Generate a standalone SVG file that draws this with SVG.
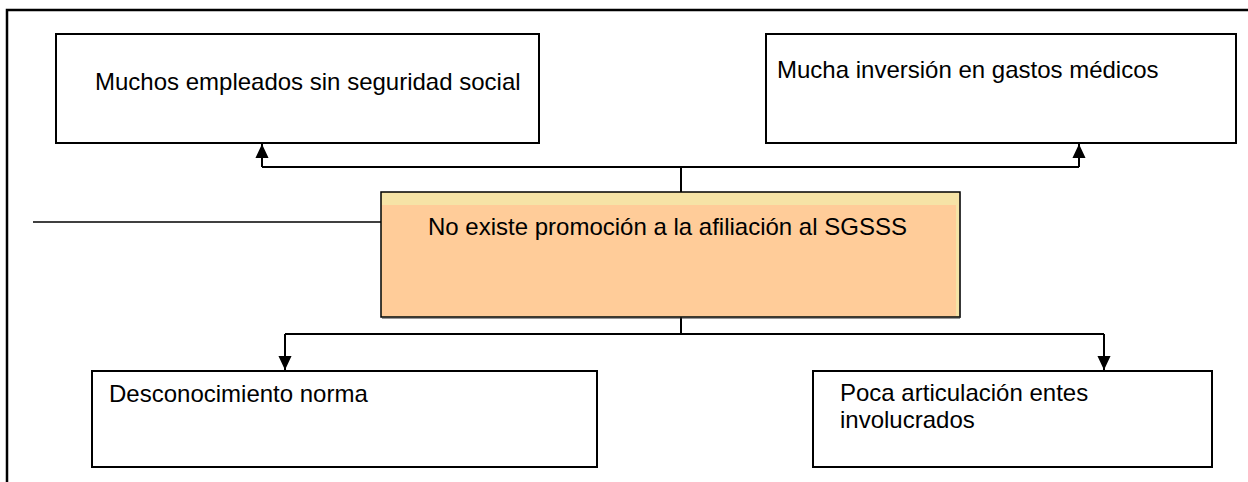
<svg xmlns="http://www.w3.org/2000/svg" width="1248" height="482" viewBox="0 0 1248 482">
<defs>
<style>
.box{fill:#ffffff;stroke:#000000;stroke-width:2}
.t{font-family:"Liberation Sans",Arial,sans-serif;font-size:24px;fill:#000000}
.c{fill:none;stroke:#000000;stroke-width:2}
</style>
<marker id="ah" markerWidth="14" markerHeight="15" viewBox="0 0 15 14" refX="15" refY="7" orient="auto" markerUnits="userSpaceOnUse">
<path d="M0,0 L15,7 L0,14 Z" fill="#000000"/>
</marker>
</defs>
<rect width="1248" height="482" fill="#ffffff"/>
<path d="M7,482 V10 H1248" fill="none" stroke="#000000" stroke-width="2.5"/>
<g id="connectors">
<path class="c" d="M681,192 V167"/>
<path class="c" d="M262,167 H1079"/>
<path class="c" d="M262,167 V144" marker-end="url(#ah)"/>
<path class="c" d="M1079,167 V144" marker-end="url(#ah)"/>
<path class="c" d="M681,317 V334"/>
<path class="c" d="M285,334 H1104"/>
<path class="c" d="M285,334 V370" marker-end="url(#ah)"/>
<path class="c" d="M1104,334 V370" marker-end="url(#ah)"/>
<path d="M33,222 H387" fill="none" stroke="#000000" stroke-width="1.5"/>
</g>
<g id="node-tl">
<rect class="box" x="56" y="34" width="483" height="109"/>
<text class="t" x="95" y="90">Muchos empleados sin seguridad social</text>
</g>
<g id="node-tr">
<rect class="box" x="766" y="34" width="470" height="109"/>
<text class="t" x="777" y="78">Mucha inversión en gastos médicos</text>
</g>
<g id="node-center">
<rect x="381" y="192" width="579" height="125" fill="#F6E3A6" stroke="#000000" stroke-width="1.5"/>
<rect x="382" y="205" width="574" height="111" fill="#FFCC99"/>
<path d="M960,193 V318 H382" fill="none" stroke="#333333" stroke-width="1"/>
<text class="t" x="428" y="235">No existe promoción a la afiliación al SGSSS</text>
</g>
<g id="node-bl">
<rect class="box" x="92" y="371" width="505" height="96"/>
<text class="t" x="109" y="402">Desconocimiento norma</text>
</g>
<g id="node-br">
<rect class="box" x="813" y="371" width="399" height="96"/>
<text class="t" x="840" y="401">Poca articulación entes</text>
<text class="t" x="840" y="428">involucrados</text>
</g>
</svg>
